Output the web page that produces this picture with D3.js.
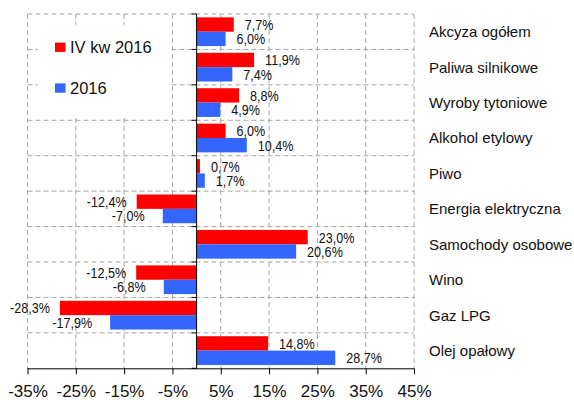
<!DOCTYPE html>
<html>
<head>
<meta charset="utf-8">
<script src="https://cdn.jsdelivr.net/npm/d3@7"></script>
<style>
  html, body { margin: 0; padding: 0; background: #fff; }
  svg { display: block; }
  text { font-family: "Liberation Sans", Arial, sans-serif; fill: #111; }
</style>
</head>
<body>
<svg id="chart" width="574" height="400"></svg>
<script>
const categories = ["Akcyza ogółem", "Paliwa silnikowe", "Wyroby tytoniowe", "Alkohol etylowy", "Piwo",
  "Energia elektryczna", "Samochody osobowe", "Wino", "Gaz LPG", "Olej opałowy"];
const seriesNames = ["IV kw 2016", "2016"];
const valuesQ4 = [7.7, 11.9, 8.8, 6.0, 0.7, -12.4, 23.0, -12.5, -28.3, 14.8];
const values2016 = [6.0, 7.4, 4.9, 10.4, 1.7, -7.0, 20.6, -6.8, -17.9, 28.7];
const xTicks = [-35, -25, -15, -5, 5, 15, 25, 35, 45];
const colors = ["#ff0000", "#3366ff"];

const svg = d3.select("#chart");
const plotLeft = 27.5, plotRight = 414, plotTop = 14, plotBottom = 368.3;

const x = d3.scaleLinear().domain([-35, 45]).range([plotLeft, plotRight]);
const y = d3.scaleBand().domain(categories).range([plotTop, plotBottom]).paddingInner(0).paddingOuter(0);
const y1 = d3.scaleBand().domain(seriesNames).range([0, y.bandwidth()]).paddingInner(0).paddingOuter(0.234);

const data = categories.map((c, i) => ({cat: c, vals: [valuesQ4[i], values2016[i]]}));

// gridlines
const grid = svg.append("g").attr("stroke", "#a6a6a6").attr("stroke-dasharray", "5,3").attr("stroke-width", 1);
grid.selectAll("line.v").data(xTicks.concat([-35])).join("line")
  .attr("x1", d => x(d)).attr("x2", d => x(d)).attr("y1", plotTop).attr("y2", plotBottom);
const hBounds = categories.map(c => y(c));
grid.selectAll("line.h").data(hBounds).join("line")
  .attr("x1", plotLeft).attr("x2", plotRight).attr("y1", d => d).attr("y2", d => d);

// legend background
svg.append("rect").attr("x", 38).attr("y", 25).attr("width", 133).attr("height", 92).attr("fill", "#fff");

// bars
const groups = svg.append("g").selectAll("g").data(data).join("g")
  .attr("transform", d => `translate(0,${y(d.cat)})`);
groups.selectAll("rect").data(d => d.vals.map((v, j) => ({v, j}))).join("rect")
  .attr("x", d => x(Math.min(0, d.v)))
  .attr("width", d => Math.abs(x(d.v) - x(0)))
  .attr("y", d => y1(seriesNames[d.j]))
  .attr("height", y1.bandwidth())
  .attr("fill", d => colors[d.j]);

// value labels
const fmt = v => d3.format(".1f")(v).replace(".", ",").replace("\u2212", "-") + "%";
groups.selectAll("text").data(d => d.vals.map((v, j) => ({v, j}))).join("text")
  .attr("transform", d => {
    const gap = d.v >= 0 ? 11 : (d.j === 0 ? 10 : 18);
    const tx = d.v >= 0 ? x(d.v) + gap : x(d.v) - gap;
    const ty = y1(seriesNames[d.j]) + y1.bandwidth() / 2;
    return `translate(${tx},${ty}) scale(0.84,1)`;
  })
  .attr("dy", "0.36em")
  .attr("text-anchor", d => d.v >= 0 ? "start" : "end")
  .style("font-size", "15px")
  .text(d => fmt(d.v));

// x axis
const xAxis = d3.axisBottom(x).tickValues(xTicks).tickSize(6).tickFormat(d => d + "%");
const gx = svg.append("g").attr("transform", `translate(0,${plotBottom})`).call(xAxis);
gx.select(".domain").attr("stroke", "#000").attr("d", `M${plotLeft},0.5H${plotRight}`);
gx.selectAll(".tick line").attr("stroke", "#000");
gx.selectAll(".tick text").attr("y", 29).attr("dy", 0)
  .style("font-size", "17px").attr("fill", "#111");

// y axis at zero
const gy = svg.append("g").attr("transform", `translate(${x(0)},0)`);
gy.append("line").attr("x1", 0).attr("x2", 0).attr("y1", plotTop).attr("y2", plotBottom).attr("stroke", "#000");
gy.selectAll("line.t").data(hBounds.concat([plotBottom])).join("line")
  .attr("x1", -5).attr("x2", 0).attr("y1", d => d).attr("y2", d => d).attr("stroke", "#000");

// category labels
svg.append("g").selectAll("text").data(categories).join("text")
  .attr("x", 429).attr("y", d => y(d) + y.bandwidth() / 2).attr("dy", "0.36em")
  .style("font-size", "15px").text(d => d);

// legend
const legendY = [47.2, 88];
const lg = svg.append("g").selectAll("g").data(seriesNames).join("g")
  .attr("transform", (d, i) => `translate(55,${legendY[i]})`);
lg.append("rect").attr("x", 0).attr("y", -4.6).attr("width", 10.5).attr("height", 9.3).attr("fill", (d, i) => colors[i]);
lg.append("text").attr("x", 15).attr("y", 0).attr("dy", "0.36em").style("font-size", "16.5px").text(d => d);
</script>
</body>
</html>
